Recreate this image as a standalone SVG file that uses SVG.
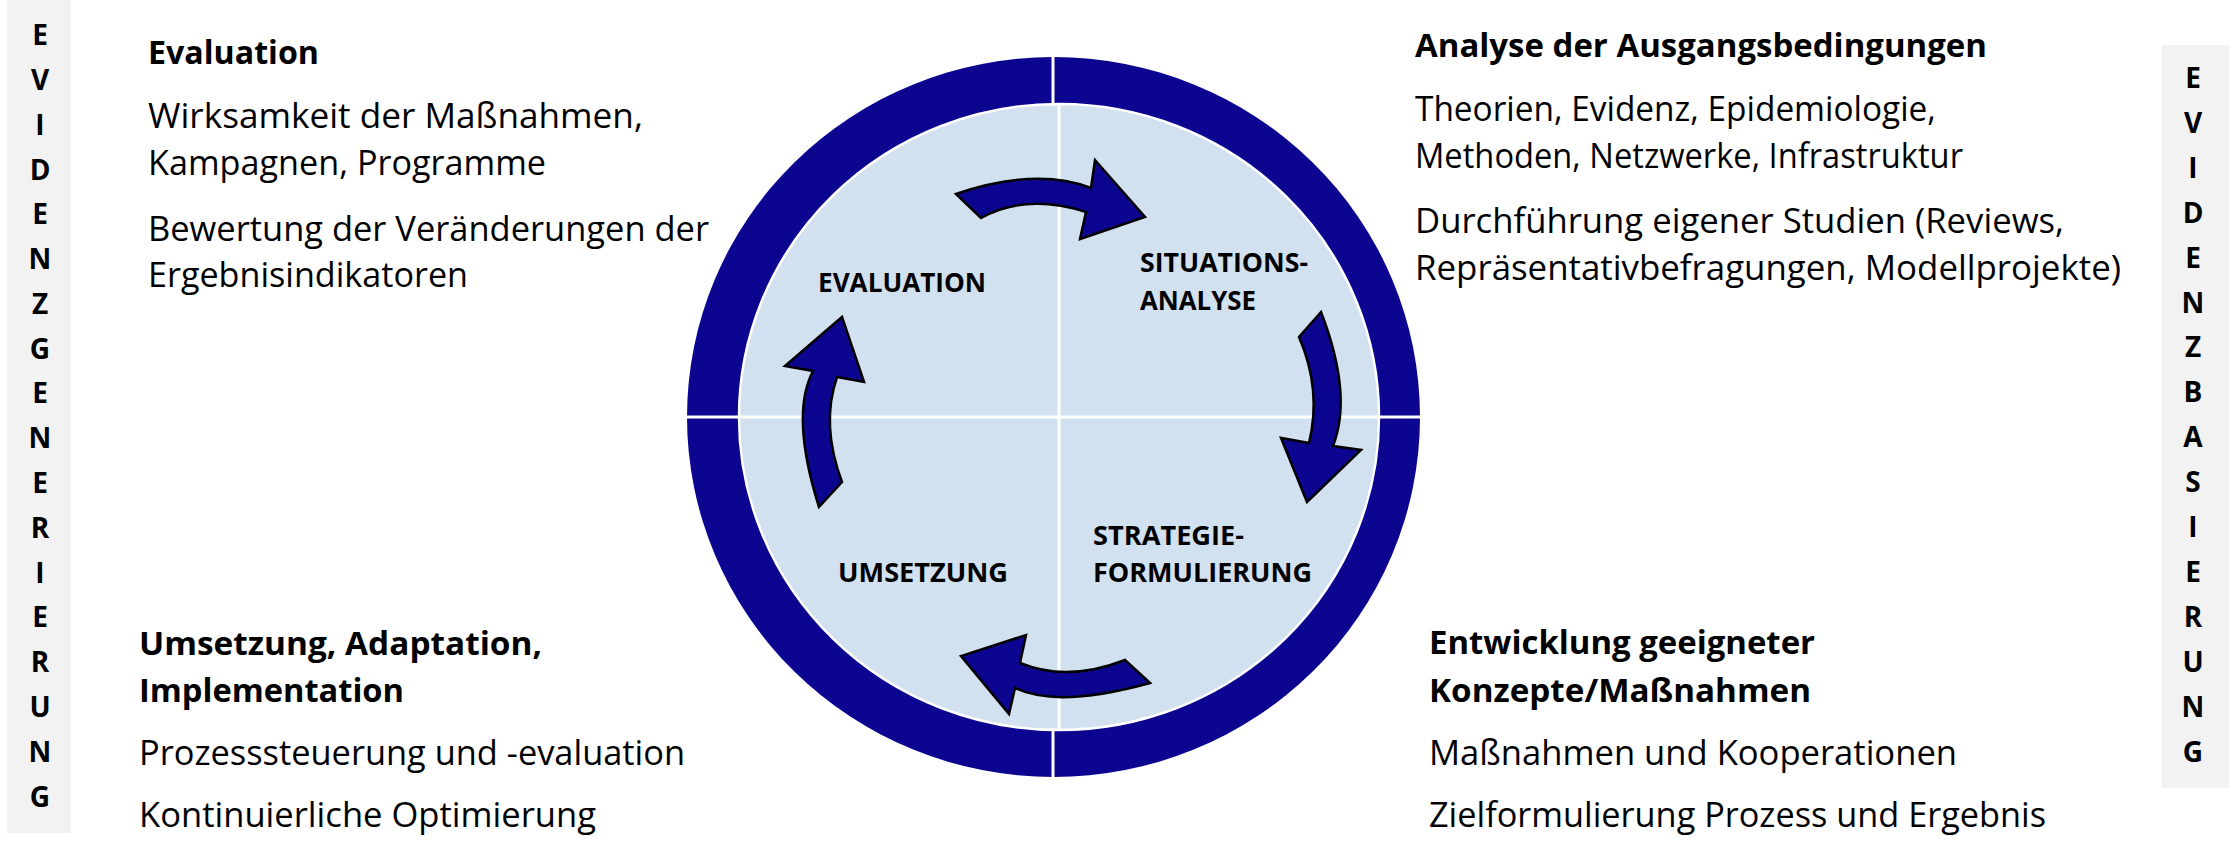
<svg xmlns="http://www.w3.org/2000/svg" width="2229" height="843" viewBox="0 0 2229 843">
<style>
text{font-family:"Open Sans","Liberation Sans",sans-serif;fill:#000}
.h{font-size:32px;font-weight:bold}
.b{font-size:35px}
.lab{font-size:26px;font-weight:bold}
.side{font-size:28px;font-weight:bold;text-anchor:middle}
.bar{fill:#f2f2f2}
.arrow{fill:#0b0590;stroke:#000;stroke-width:2.5;stroke-linejoin:miter}
.sep{stroke:#fff;stroke-width:3}
</style>
<rect width="2229" height="843" fill="#fff"/>
<g id="bar-left">
<rect class="bar" x="7" y="0" width="64" height="833"/>
<text class="side" x="40"><tspan x="40" y="45">E</tspan><tspan x="40" y="90">V</tspan><tspan x="40" y="135">I</tspan><tspan x="40" y="180">D</tspan><tspan x="40" y="224">E</tspan><tspan x="40" y="269">N</tspan><tspan x="40" y="314">Z</tspan><tspan x="40" y="359">G</tspan><tspan x="40" y="403">E</tspan><tspan x="40" y="448">N</tspan><tspan x="40" y="493">E</tspan><tspan x="40" y="538">R</tspan><tspan x="40" y="583">I</tspan><tspan x="40" y="627">E</tspan><tspan x="40" y="672">R</tspan><tspan x="40" y="717">U</tspan><tspan x="40" y="762">N</tspan><tspan x="40" y="807">G</tspan></text>
</g>
<g id="bar-right">
<rect class="bar" x="2162" y="45" width="67" height="743"/>
<text class="side" x="2193"><tspan x="2193" y="88">E</tspan><tspan x="2193" y="133">V</tspan><tspan x="2193" y="178">I</tspan><tspan x="2193" y="223">D</tspan><tspan x="2193" y="268">E</tspan><tspan x="2193" y="313">N</tspan><tspan x="2193" y="357">Z</tspan><tspan x="2193" y="402">B</tspan><tspan x="2193" y="447">A</tspan><tspan x="2193" y="492">S</tspan><tspan x="2193" y="537">I</tspan><tspan x="2193" y="582">E</tspan><tspan x="2193" y="627">R</tspan><tspan x="2193" y="672">U</tspan><tspan x="2193" y="717">N</tspan><tspan x="2193" y="762">G</tspan></text>
</g>
<g id="block-evaluation">
<text class="h" x="148" y="64" textLength="171" lengthAdjust="spacingAndGlyphs">Evaluation</text>
<text class="b" x="148" y="128" textLength="495" lengthAdjust="spacingAndGlyphs">Wirksamkeit der Maßnahmen,</text>
<text class="b" x="148" y="175" textLength="398" lengthAdjust="spacingAndGlyphs">Kampagnen, Programme</text>
<text class="b" x="148" y="241" textLength="561" lengthAdjust="spacingAndGlyphs">Bewertung der Veränderungen der</text>
<text class="b" x="148" y="287" textLength="320" lengthAdjust="spacingAndGlyphs">Ergebnisindikatoren</text>
</g>
<g id="block-analyse">
<text class="h" x="1415" y="57" textLength="572" lengthAdjust="spacingAndGlyphs">Analyse der Ausgangsbedingungen</text>
<text class="b" x="1415" y="121" textLength="521" lengthAdjust="spacingAndGlyphs">Theorien, Evidenz, Epidemiologie,</text>
<text class="b" x="1415" y="168" textLength="548" lengthAdjust="spacingAndGlyphs">Methoden, Netzwerke, Infrastruktur</text>
<text class="b" x="1415" y="233" textLength="649" lengthAdjust="spacingAndGlyphs">Durchführung eigener Studien (Reviews,</text>
<text class="b" x="1415" y="280" textLength="706" lengthAdjust="spacingAndGlyphs">Repräsentativbefragungen, Modellprojekte)</text>
</g>
<g id="block-umsetzung">
<text class="h" x="139" y="655" textLength="403" lengthAdjust="spacingAndGlyphs">Umsetzung, Adaptation,</text>
<text class="h" x="139" y="702" textLength="265" lengthAdjust="spacingAndGlyphs">Implementation</text>
<text class="b" x="139" y="765" textLength="546" lengthAdjust="spacingAndGlyphs">Prozesssteuerung und -evaluation</text>
<text class="b" x="139" y="827" textLength="457" lengthAdjust="spacingAndGlyphs">Kontinuierliche Optimierung</text>
</g>
<g id="block-entwicklung">
<text class="h" x="1429" y="654" textLength="386" lengthAdjust="spacingAndGlyphs">Entwicklung geeigneter</text>
<text class="h" x="1429" y="702" textLength="382" lengthAdjust="spacingAndGlyphs">Konzepte/Maßnahmen</text>
<text class="b" x="1429" y="765" textLength="528" lengthAdjust="spacingAndGlyphs">Maßnahmen und Kooperationen</text>
<text class="b" x="1429" y="827" textLength="617" lengthAdjust="spacingAndGlyphs">Zielformulierung Prozess und Ergebnis</text>
</g>
<g id="cycle">
<ellipse cx="1053.5" cy="417" rx="366.5" ry="360" fill="#0b0590"/>
<ellipse cx="1059" cy="417" rx="320" ry="313" fill="#d2e1f0" stroke="#fff" stroke-width="2.5"/>
<line class="sep" x1="1053" y1="55" x2="1053" y2="106"/>
<line class="sep" x1="1053" y1="728" x2="1053" y2="779"/>
<line class="sep" x1="1059" y1="104" x2="1059" y2="730"/>
<line class="sep" x1="685" y1="417" x2="1422" y2="417"/>
</g>
<g id="node-evaluation"><text class="lab" x="818" y="292" textLength="168" lengthAdjust="spacingAndGlyphs">EVALUATION</text></g>
<g id="node-situationsanalyse"><text class="lab" x="1140" y="272" textLength="168" lengthAdjust="spacingAndGlyphs">SITUATIONS-</text><text class="lab" x="1140" y="310" textLength="116" lengthAdjust="spacingAndGlyphs">ANALYSE</text></g>
<g id="node-strategieformulierung"><text class="lab" x="1093" y="545" textLength="151" lengthAdjust="spacingAndGlyphs">STRATEGIE-</text><text class="lab" x="1093" y="582" textLength="219" lengthAdjust="spacingAndGlyphs">FORMULIERUNG</text></g>
<g id="node-umsetzung"><text class="lab" x="838" y="582" textLength="170" lengthAdjust="spacingAndGlyphs">UMSETZUNG</text></g>
<g id="connectors">
<path class="arrow" d="M956,194 Q1036,167 1091,188 L1095,160 L1145,217 L1080,239 L1086,212 Q1026,193 981,218 Z"/>
<path class="arrow" d="M1321,312 Q1353,395 1333,446 L1361,450 L1307,502 L1281,438 L1309,443 Q1322,390 1299,337 Z"/>
<path class="arrow" d="M1125,660 Q1067.5,682.5 1020,663 L1026,635 L961,656 L1009,714 L1015,688 Q1057.5,708.5 1150,683 Z"/>
<path class="arrow" d="M819,507 L842,482 Q820.5,424.5 837,377 L864,382 L842,317 L785,366 L813,371 Q790,415 819,507 Z"/>
</g>
</svg>
